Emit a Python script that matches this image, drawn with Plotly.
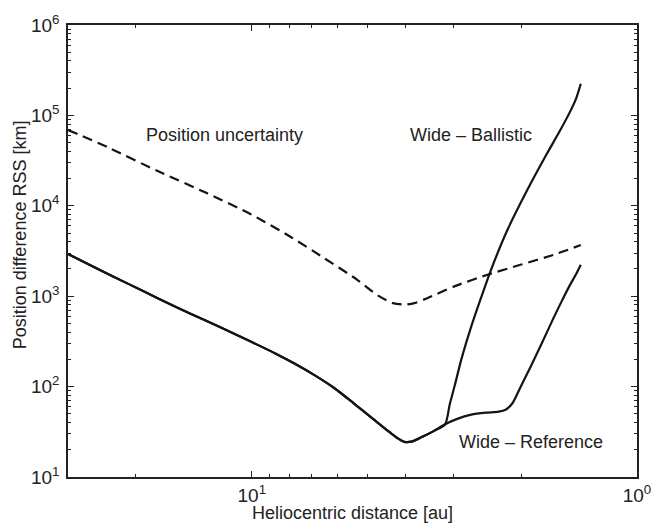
import plotly.graph_objects as go

# Heliocentric distance [au] / position difference RSS [km]
shared_x = [30.0, 24.94, 20.92, 17.55, 14.47, 11.99, 10.0, 8.687, 7.727, 6.875, 6.112, 5.437,
            4.836, 4.377, 4.178, 4.017, 3.825, 3.608, 3.363, 3.148]
shared_y = [2931, 1971, 1369, 951, 644, 447, 311, 232.7, 178.7, 133.8, 96.5, 65.4,
            43.7, 31.1, 26.8, 24.5, 24.8, 27.8, 32.4, 38.3]

ref_tail_x = [2.939, 2.692, 2.465, 2.285, 2.193, 2.105, 2.008, 1.894, 1.765, 1.652, 1.570,
              1.498, 1.438, 1.399]
ref_tail_y = [43.7, 48.98, 51.5, 52.8, 55.5, 65.4, 97.8, 161.6, 303, 558, 871,
              1292, 1760, 2224]

bal_tail_x = [3.062, 2.969, 2.855, 2.692, 2.539, 2.394, 2.171, 1.931, 1.718, 1.589, 1.498,
              1.438, 1.399]
bal_tail_y = [63.8, 104.6, 202.7, 464.5, 962.9, 1947, 5362, 14650, 36860, 66220, 105950,
              154500, 223600]

unc_x = [30.0, 23.52, 17.55, 13.09, 10.0, 7.958, 6.482, 5.333, 4.697, 4.301, 4.017, 3.781,
         3.503, 2.969, 2.441, 2.008, 1.652, 1.399]
unc_y = [68900, 43950, 24220, 13830, 7957, 4577, 2632, 1526, 1013, 838.6, 807.6, 838.6,
         951, 1292, 1730, 2224, 2858, 3678]

y_ticks = [10, 100, 1000, 10000, 100000, 1000000]
y_ticktext = ["10<sup>1</sup>", "10<sup>2</sup>", "10<sup>3</sup>", "10<sup>4</sup>",
              "10<sup>5</sup>", "10<sup>6</sup>"]
x_ticks = [10, 1]
x_ticktext = ["10<sup>1</sup>", "10<sup>0</sup>"]
x_minor = [20, 9, 8, 7, 6, 5, 4, 3, 2]
y_minor = [m * 10 ** e for e in range(1, 6) for m in range(2, 10)]

ref_x = shared_x + ref_tail_x
ref_y = shared_y + ref_tail_y
bal_x = shared_x + bal_tail_x
bal_y = shared_y + bal_tail_y

line_col = "#141414"
txt_col = "#222222"
FONT = "Liberation Sans, Arial, Helvetica, sans-serif"

fig = go.Figure()
fig.add_trace(go.Scatter(x=ref_x, y=ref_y, mode="lines",
                         line=dict(color=line_col, width=2.2, shape="spline", smoothing=0.7)))
fig.add_trace(go.Scatter(x=bal_x, y=bal_y, mode="lines",
                         line=dict(color=line_col, width=2.2, shape="spline", smoothing=0.7)))
fig.add_trace(go.Scatter(x=unc_x, y=unc_y, mode="lines",
                         line=dict(color=line_col, width=2.2, dash="10px,6px",
                                   shape="spline", smoothing=0.7)))

axis_common = dict(type="log", showgrid=False, zeroline=False, tickmode="array",
                   ticks="inside", ticklen=6, tickcolor=txt_col, tickwidth=1,
                   showline=True, linecolor=txt_col, linewidth=1.5, mirror="allticks",
                   ticklabeloverflow="allow",
                   tickfont=dict(size=19, color=txt_col, family=FONT))

fig.update_layout(
    width=663, height=529,
    margin=dict(l=68, r=14, t=19, b=52),
    paper_bgcolor="white", plot_bgcolor="white",
    showlegend=False, font=dict(family=FONT, size=18, color=txt_col),
    xaxis=dict(range=[1.4771, -0.0001], tickvals=x_ticks, ticktext=x_ticktext,
               minor=dict(tickmode="array", tickvals=x_minor, ticks="inside",
                          ticklen=3, tickcolor=txt_col),
               **axis_common),
    yaxis=dict(range=[1, 6], tickvals=y_ticks, ticktext=y_ticktext,
               ticklabelstandoff=3,
               minor=dict(tickmode="array", tickvals=y_minor, ticks="inside",
                          ticklen=3, tickcolor=txt_col),
               **axis_common),
)

# plot-area pixel box: x 68..649, y 19..476.7
def px2paper(px, py):
    return (px - 68) / 581.0, (476.7 - py) / 457.7

annots = [
    ("Position uncertainty", 228, 130, 0),
    ("Wide \u2013 Ballistic", 479, 130, 0),
    ("Wide \u2013 Reference", 540.5, 441, 0),
    ("Heliocentric distance [au]", 359, 513, 0),
    ("Position difference RSS [km]", 19, 232, -90),
]
for text, px, py, ang in annots:
    ax, ay = px2paper(px, py)
    fig.add_annotation(text=text, x=ax, y=ay, xref="paper", yref="paper",
                       showarrow=False, textangle=ang,
                       font=dict(size=18, color=txt_col, family=FONT),
                       xanchor="center", yanchor="middle")

fig.write_html("out.html")
